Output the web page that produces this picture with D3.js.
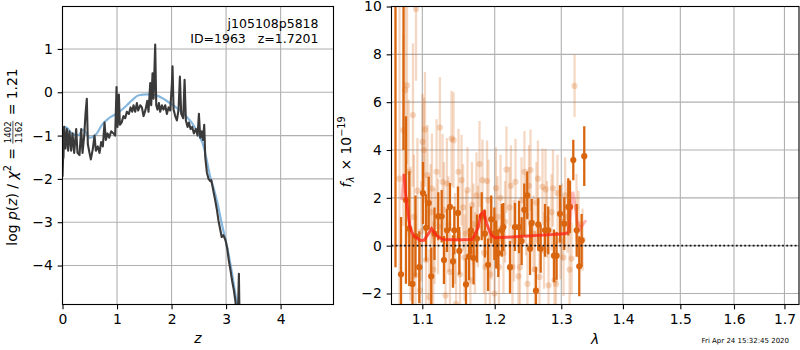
<!DOCTYPE html>
<html><head><meta charset="utf-8">
<script src="https://cdn.jsdelivr.net/npm/d3@7"></script>
<style>
body{margin:0;background:#fff}
svg{font-family:"DejaVu Sans",sans-serif;display:block}
text{white-space:pre}
</style></head>
<body><svg id="chart" width="800" height="350"></svg>
<script>
// ---------- left panel: log p(z) ----------
const zGrid = [0,0.01,0.018,0.03,0.055,0.08,0.104,0.128,0.159,0.183,0.214,0.251,0.275,0.312,0.343,0.367,0.398,0.422,0.446,0.465,0.495,0.52,0.557,0.587,0.612,0.648,0.679,0.709,0.74,0.771,0.795,0.826,0.856,0.893,0.936,0.966,0.991,1.009,1.034,1.052,1.083,1.119,1.15,1.18,1.217,1.248,1.278,1.303,1.333,1.364,1.388,1.425,1.456,1.486,1.523,1.554,1.578,1.609,1.627,1.651,1.67,1.70,1.719,1.743,1.768,1.792,1.823,1.853,1.884,1.914,1.945,1.976,2.006,2.018,2.037,2.067,2.098,2.128,2.153,2.177,2.214,2.239,2.263,2.294,2.318,2.349,2.379,2.41,2.446,2.477,2.502,2.526,2.55,2.575,2.599,2.618,2.648,2.679,2.709,2.73,2.77,2.80,2.83,2.86,2.89,2.92,2.95,2.99,3.02,3.05,3.08,3.11,3.14,3.17,3.20,3.22,3.235,3.25,3.30];
const logPz = [-1.95,-1.55,-1.5,-0.8,-1.3,-0.85,-1.35,-0.9,-1.35,-0.95,-1.4,-0.85,-1.4,-1.45,-0.85,-1.4,-1.0,-0.5,-0.15,-1.2,-1.4,-1.55,-1.3,-1.0,-1.35,-1.25,-1.4,-1.15,-1.25,-0.7,-1.1,-0.95,-1.05,-0.9,-0.95,-1.0,0.12,-0.8,-0.05,-0.75,-0.7,-0.55,-0.6,-0.45,-0.5,-0.35,-0.45,-0.3,-0.45,-0.25,-0.42,-0.3,-0.35,-0.55,-0.4,-0.2,-0.45,0.21,-0.3,0.44,-0.15,1.1,-0.3,-0.4,-0.25,-0.45,-0.3,-0.4,-0.3,-0.5,-0.35,-0.42,0.2,0.6,-0.4,-0.55,-0.65,-0.4,0.36,-0.5,-0.6,0.29,-0.65,-0.8,-0.7,-0.85,-0.8,-0.95,-0.85,-1.0,-0.5,-1.05,-0.9,-1.1,-0.75,-1.5,-1.85,-2.0,-2.05,-2.03,-2.3,-2.49,-2.7,-2.96,-3.15,-3.34,-3.3,-3.42,-3.6,-3.88,-4.1,-4.35,-4.55,-4.81,-5.2,-5.0,-4.19,-5.5,-7.0];
const zModel = [0,0.02,0.08,0.17,0.29,0.38,0.5,0.63,0.72,0.85,1.0,1.18,1.27,1.4,1.55,1.72,1.9,2.07,2.25,2.38,2.5,2.59,2.65,2.71,2.78,2.85,2.92,3.02,3.11,3.19,3.25];
const logPzModel = [-1.0,-0.8,-0.82,-0.95,-0.99,-0.86,-1.05,-0.95,-0.76,-0.6,-0.49,-0.30,-0.19,-0.07,-0.05,-0.07,-0.19,-0.34,-0.53,-0.72,-0.99,-1.26,-1.6,-1.96,-2.25,-2.6,-3.03,-3.57,-4.19,-4.81,-5.3];
const zTicks = [0,1,2,3,4];
const pzTicks = [1,0,-1,-2,-3,-4];
const titleLines = ["j105108p5818", "ID=1963   z=1.7201"];

// ---------- right panel: spectrum ----------
const waveFaint = [1.0702,1.0752,1.0774,1.0799,1.0844,1.0877,1.0910,1.0917,1.0935,1.0969,1.1002,1.1021,1.1035,1.1067,1.1093,1.1128,1.1162,1.1190,1.1235,1.1270,1.1311,1.1352,1.1393,1.1421,1.1455,1.1489,1.1531,1.1573,1.1614,1.1655,1.1697,1.1740,1.1783,1.1825,1.1868,1.1911,1.1954,1.1997,1.2040,1.2084,1.2127,1.2171,1.2215,1.2259,1.2304,1.2348,1.2393,1.2437,1.2482,1.2528,1.2573,1.2618,1.2664,1.2710,1.2756,1.2802,1.2848,1.2894,1.2941,1.2988,1.3035,1.3098,1.3161,1.3209,1.3272,1.3336,
  1.0820,1.0890,1.0985,1.1050,1.1110,1.1145,1.1210,1.1290,1.1330,1.1372,1.1440,1.1510,1.1552,1.1594,1.1676,1.1718,1.1760,1.1846,1.1890,1.1932,1.2018,1.2062,1.2150,1.2237,1.2281,1.2370,1.2460,1.2505,1.2595,1.2640,1.2733,1.2779,1.2871,1.2917,1.3011,1.3060,1.3130,1.3240];
const fluxFaint = [2.8,4.83,6.5,6.7,0.5,5.46,-1.24,9.9,2.3,-1.87,4.34,4.0,4.86,2.95,-2.15,2.39,0.4,3.09,4.94,2.67,-2.08,0.9,4.48,4.41,-2.43,3.09,2.74,-0.5,2.32,-1.45,0.9,2.1,3.41,2.74,-0.89,1.9,0.3,-2.0,1.2,2.0,-0.3,3.18,1.6,-0.89,2.67,-1.28,1.9,3.09,-1.6,3.16,0.5,1.8,-1.31,2.46,2.35,-1.66,1.4,-1.45,2.2,0.2,-0.5,1.2,-0.54,6.68,0.9,0.25,
  3.1,1.2,0.6,-0.6,1.4,-1.0,0.8,1.5,2.6,-1.1,0.3,-1.2,1.6,0.5,1.7,-0.3,0.8,-0.3,2.7,-1.2,2.4,-0.9,1.0,2.5,0.2,-0.9,1.3,2.5,-1.0,2.8,-0.2,1.1,2.4,-1.6,1.0,2.1,-1.0,1.6];
const errFaint = [7.5,4.0,3.5,3.3,2.8,3.0,2.5,3.0,2.2,2.0,2.0,2.2,2.4,2.1,2.0,2.3,2.0,2.2,2.1,2.0,2.0,2.0,2.0,2.0,1.9,1.8,1.9,1.8,1.8,1.8,1.7,1.8,1.8,1.7,1.8,1.7,1.7,1.8,1.7,1.8,1.7,1.8,1.7,1.7,1.8,1.7,1.8,1.7,1.7,1.7,1.6,1.7,1.7,1.6,1.7,1.6,1.6,1.6,1.6,1.6,1.6,1.5,1.5,1.3,1.4,1.3,
  3.0,2.6,2.1,2.1,2.0,2.0,2.0,2.0,1.9,1.9,1.9,1.8,1.8,1.8,1.8,1.7,1.7,1.7,1.7,1.7,1.7,1.7,1.7,1.7,1.7,1.7,1.7,1.7,1.6,1.6,1.6,1.6,1.6,1.6,1.6,1.6,1.5,1.4];
const waveDark = [1.0651,1.0722,1.0754,1.0786,1.0829,1.0871,1.0910,1.0960,1.1009,1.1049,1.1085,1.1119,1.1162,1.1213,1.1259,1.1290,1.1331,1.1372,1.1413,1.1431,1.1482,1.1500,1.1593,1.1635,1.1662,1.1699,1.1747,1.1814,1.1860,1.1905,1.1950,1.1995,1.2022,1.2052,1.2104,1.2125,1.2223,1.2296,1.2356,1.2395,1.2434,1.2479,1.2521,1.2546,1.2610,1.2645,1.2682,1.2748,1.2798,1.2886,1.2927,1.2980,1.3047,1.3110,1.3137,1.3189,1.3243,1.3284,1.3322,1.3364];
const fluxDark = [12.0,-1.2,11.5,1.91,0.71,-1.6,0.4,-0.9,2.2,0.75,1.78,-1.28,0.5,1.23,1.23,-0.6,0.64,1.62,-0.66,0.64,1.37,-0.22,-1.62,-0.45,0.64,-0.52,0.3,1.23,0.5,-0.8,1.1,0.5,0.05,-0.31,0.64,0.78,-0.9,0.78,0.78,0.19,1.5,2.1,-0.13,0.95,-1.88,0.89,-0.13,0.64,0.64,-0.42,-0.42,1.33,0.92,1.62,1.62,3.58,0.64,-0.86,0.22,3.74];
const errDark = [12.9,2.4,7.5,3.5,2.4,2.0,1.7,1.5,1.3,1.4,1.1,1.2,1.1,1.0,1.1,1.0,0.9,1.0,1.1,1.0,1.1,1.0,1.1,1.0,1.0,1.1,1.0,1.0,1.0,1.1,1.0,1.1,1.0,1.0,1.1,1.0,1.1,1.0,1.1,1.0,1.1,1.0,1.1,1.0,1.0,1.1,1.0,1.1,1.0,1.1,1.0,1.2,1.1,1.2,1.1,0.85,1.1,1.25,1.1,1.25];
const waveModel = [1.0731,1.0760,1.0786,1.0838,1.0877,1.0969,1.1021,1.1061,1.1123,1.1179,1.1276,1.1468,1.1677,1.1719,1.1765,1.1801,1.1843,1.1886,1.1947,1.2004,1.2223,1.2521,1.2825,1.3058,1.3105,1.3137,1.3180,1.3217,1.3249,1.3297,1.3345,1.3393];
const fluxModel = [1.9,3.0,2.0,0.78,0.45,0.22,0.22,0.4,0.71,0.45,0.26,0.24,0.26,0.45,0.8,1.3,1.42,0.9,0.45,0.33,0.36,0.41,0.46,0.5,0.55,1.0,2.25,1.7,1.0,0.7,0.9,1.06];
const waveTicks = [1.1,1.2,1.3,1.4,1.5,1.6,1.7];
const fluxTicks = [-2,0,2,4,6,8,10];
const timestamp = "Fri Apr 24 15:32:45 2020";

// ---------- drawing ----------
const svg = d3.select("#chart");
const FS = 13.9, TICK = 4.86, PAD = 4.86;
const GRID = "#b0b0b0";
const minus = d => (d < 0 ? "\u2212" + Math.abs(d) : String(d));

const L = {x0: 62.5, x1: 333.5, y0: 6.5, y1: 304.5};
const R = {x0: 391.5, x1: 799, y0: 6.5, y1: 304.5};

const xz = d3.scaleLinear().domain([0, 4.97]).range([L.x0, L.x1]);
const yz = d3.scaleLinear().domain([-4.9, 1.98]).range([L.y1, L.y0]);
const xw = d3.scaleLog().domain([1.06, 1.73]).range([R.x0, R.x1]);
const yf = d3.scaleLinear().domain([-2.46, 10]).range([R.y1, R.y0]);

const defs = svg.append("defs");
[["clipL", L], ["clipR", R]].forEach(([id, b]) => {
  defs.append("clipPath").attr("id", id).append("rect")
    .attr("x", b.x0).attr("y", b.y0).attr("width", b.x1 - b.x0).attr("height", b.y1 - b.y0);
});

function grid(b, xs, ys, xt, yt) {
  const g = svg.append("g");
  g.selectAll(".gx").data(xt).join("line")
    .attr("x1", d => xs(d)).attr("x2", d => xs(d)).attr("y1", b.y0).attr("y2", b.y1)
    .attr("stroke", GRID).attr("stroke-width", 1.1);
  g.selectAll(".gy").data(yt).join("line")
    .attr("x1", b.x0).attr("x2", b.x1).attr("y1", d => ys(d)).attr("y2", d => ys(d))
    .attr("stroke", GRID).attr("stroke-width", 1.1);
}
function axes(b, xs, ys, xt, yt, xfmt, yfmt) {
  const ax = svg.append("g").attr("transform", `translate(0,${b.y1})`)
    .call(d3.axisBottom(xs).tickValues(xt).tickFormat(xfmt).tickSize(TICK).tickPadding(PAD));
  const ay = svg.append("g").attr("transform", `translate(${b.x0},0)`)
    .call(d3.axisLeft(ys).tickValues(yt).tickFormat(yfmt).tickSize(TICK).tickPadding(PAD));
  [ax, ay].forEach(a => {
    a.select(".domain").remove();
    a.selectAll("line").attr("stroke", "#000").attr("stroke-width", 1.1);
    a.selectAll("text").attr("font-size", FS).attr("fill", "#000")
      .attr("font-family", "DejaVu Sans");
  });
  svg.append("rect").attr("x", b.x0).attr("y", b.y0)
    .attr("width", b.x1 - b.x0).attr("height", b.y1 - b.y0)
    .attr("fill", "none").attr("stroke", "#000").attr("stroke-width", 1.1);
}

// left panel
grid(L, xz, yz, zTicks, pzTicks);
const gl = svg.append("g").attr("clip-path", "url(#clipL)");
const pzModelData = zModel.map((z, i) => [z, logPzModel[i]]);
const pzData = zGrid.map((z, i) => [z, logPz[i]]);
gl.append("path").datum(pzModelData)
  .attr("d", d3.line().x(d => xz(d[0])).y(d => yz(d[1])).curve(d3.curveMonotoneX))
  .attr("fill", "none").attr("stroke", "#5e9fd3").attr("stroke-opacity", 0.75).attr("stroke-width", 2.2);
gl.append("path").datum(pzData)
  .attr("d", d3.line().x(d => xz(d[0])).y(d => yz(d[1])))
  .attr("fill", "none").attr("stroke", "#3a3a3a").attr("stroke-width", 2.1)
  .attr("stroke-linejoin", "round");
axes(L, xz, yz, zTicks, pzTicks, minus, minus);
titleLines.forEach((t, i) => {
  svg.append("text").attr("x", 318.5).attr("y", 27.5 + i * 15).attr("text-anchor", "end")
    .attr("xml:space", "preserve").style("white-space", "pre")
    .attr("font-size", 12.5).text(t);
});

// right panel
grid(R, xw, yf, waveTicks, fluxTicks);
const gr = svg.append("g").attr("clip-path", "url(#clipR)");
const ORANGE = "#d9650f";
function errPoints(w, f, e, op) {
  const data = w.map((x, i) => ({x, f: f[i], e: e[i]}));
  const g = gr.append("g");
  g.selectAll("line").data(data).join("line")
    .attr("x1", d => xw(d.x)).attr("x2", d => xw(d.x))
    .attr("y1", d => yf(d.f - d.e)).attr("y2", d => yf(d.f + d.e))
    .attr("stroke", ORANGE).attr("stroke-opacity", op).attr("stroke-width", 2.3);
  g.selectAll("circle").data(data).join("circle")
    .attr("cx", d => xw(d.x)).attr("cy", d => yf(d.f)).attr("r", 3.1)
    .attr("fill", ORANGE).attr("fill-opacity", op);
}
errPoints(waveFaint, fluxFaint, errFaint, 0.25);
errPoints(waveDark, fluxDark, errDark, 1);
const modelData = waveModel.map((w, i) => [w, fluxModel[i]]);
const mline = d3.line().x(d => xw(d[0])).y(d => yf(d[1]));
gr.append("path").datum(modelData).attr("d", mline)
  .attr("fill", "none").attr("stroke", "#ff3030").attr("stroke-opacity", 0.35).attr("stroke-width", 3);
gr.append("path").datum(modelData.filter(d => d[0] >= 1.0755 && d[0] <= 1.3125)).attr("d", mline)
  .attr("fill", "none").attr("stroke", "#ff2010").attr("stroke-opacity", 0.65).attr("stroke-width", 2.8);
gr.append("line").attr("x1", R.x0).attr("x2", R.x1).attr("y1", yf(0)).attr("y2", yf(0))
  .attr("stroke", "#111").attr("stroke-width", 1.8).attr("stroke-dasharray", "1.8,2.4");
axes(R, xw, yf, waveTicks, fluxTicks, d3.format(".1f"), minus);

// x labels
svg.append("text").attr("x", 198).attr("y", 342.5).attr("text-anchor", "middle")
  .attr("font-size", FS).attr("font-style", "italic").text("z");
svg.append("text").attr("x", 595).attr("y", 344).attr("text-anchor", "middle")
  .attr("font-size", FS).attr("font-style", "italic").text("\u03bb");

// rotated math labels
function mathLabel(bx, cy, pieces) {
  const g = svg.append("g");
  let x = 0;
  pieces.forEach(p => {
    if (p.frac) {
      const fs = p.size;
      const tn = g.append("text").attr("font-size", fs).text(p.frac[0]);
      const td = g.append("text").attr("font-size", fs).text(p.frac[1]);
      const wn = tn.node().getComputedTextLength(), wd = td.node().getComputedTextLength();
      const w = Math.max(wn, wd) + 1;
      tn.attr("x", x + (w - wn) / 2).attr("y", -5.2);
      td.attr("x", x + (w - wd) / 2).attr("y", 5.2);
      g.append("line").attr("x1", x).attr("x2", x + w).attr("y1", -3.6).attr("y2", -3.6)
        .attr("stroke", "#000").attr("stroke-width", 0.7);
      x += w + (p.after || 0);
    } else {
      const t = g.append("text").attr("x", x).attr("y", p.dy || 0)
        .attr("font-size", p.size || FS).attr("font-style", p.it ? "italic" : "normal")
        .attr("xml:space", "preserve").style("white-space", "pre").text(p.t);
      x += t.node().getComputedTextLength() + (p.after || 0);
    }
  });
  g.attr("transform", `translate(${bx},${cy + x / 2}) rotate(-90)`);
}
mathLabel(16.5, 157, [
  {t: "log "}, {t: "p", it: true}, {t: "("}, {t: "z", it: true}, {t: ") / "},
  {t: "\u03c7", it: true}, {t: "2", size: 9.7, dy: -5.6, after: 1}, {t: " = "},
  {frac: ["1402", "1162"], size: 8.6, after: 1}, {t: " = 1.21"}
]);
mathLabel(350.5, 152, [
  {t: "f", it: true, after: 0.5}, {t: "\u03bb", it: true, size: 9.7, dy: 3, after: 1.5},
  {t: " \u00d7 10"}, {t: "\u221219", size: 9.7, dy: -5.6}
]);

// timestamp
svg.append("text").attr("x", 789).attr("y", 342.5).attr("text-anchor", "end")
  .attr("font-size", 7).text(timestamp);
</script>
</body></html>
